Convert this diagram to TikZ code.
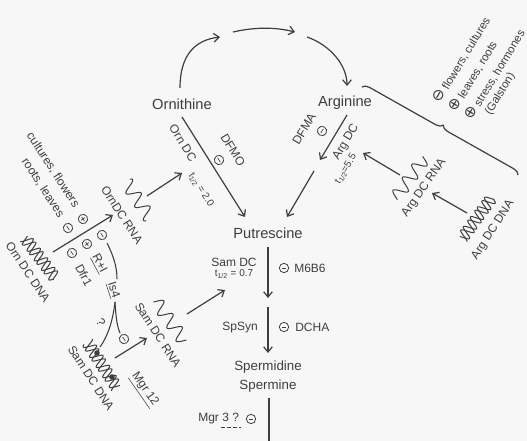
\documentclass[tikz,border=0pt]{standalone}
\usepackage{fontspec}
\setmainfont{Liberation Sans}
\newfontfamily\symf{DejaVu Sans}
\usetikzlibrary{arrows.meta,decorations.pathreplacing}
\definecolor{ink}{RGB}{62,62,62}
\definecolor{bg}{RGB}{247,247,247}
\newcommand\omin{{\symf\fontsize{11.5}{11.5}\selectfont ⊖}}
\newcommand\oplu{{\symf\fontsize{11.5}{11.5}\selectfont ⊕}}
\newcommand\mns{\makebox[0pt]{\color{ink}\rule[-0.25pt]{3.6pt}{0.5pt}}}
\newcommand\pls{\makebox[0pt]{\color{ink}\rule[-0.25pt]{3.6pt}{0.5pt}}\makebox[0pt]{\color{ink}\rule[-1.8pt]{0.5pt}{3.6pt}}}
\newcommand\rnaW[3]{\draw[wave, shift={(#1)}, rotate=#2] plot[domain=-#3:#3, samples=90, smooth] (\x,{6.5*sin(\x*22.5)});}
\newcommand\dnaW[3]{\draw[wave, shift={(#1)}, rotate=#2] plot[domain=-#3:#3, samples=120, smooth] (\x,{6*sin(\x*30)});
 \draw[wave, shift={(#1)}, rotate=#2] plot[domain=-#3:#3, samples=120, smooth] (\x,{6*sin(\x*30+130)});}
\begin{document}
\begin{tikzpicture}[x=0.75pt,y=-0.75pt,
 every node/.style={text=ink, inner sep=0pt},
 conn/.style={draw=ink, line width=0.9pt, -{Straight Barb[length=4pt,width=6.5pt]}},
 plain/.style={draw=ink, line width=0.9pt},
 wave/.style={draw=ink, line width=0.75pt},
 big/.style={font=\fontsize{11}{13}\selectfont},
 med/.style={font=\fontsize{10}{12}\selectfont},
 mid/.style={font=\fontsize{9}{11}\selectfont},
 brl/.style={font=\fontsize{8.5}{10}\selectfont},
 sml/.style={font=\fontsize{7.5}{9}\selectfont},
 sgn/.style={circle, draw=ink, line width=0.6pt, minimum size=7pt, inner sep=0pt}]
\fill[bg] (0,0) rectangle (527,441);
\useasboundingbox (0,0) rectangle (527,441);

% main compounds
\node[big] (orn) at (182,104) {Ornithine};
\node[big] (arg) at (345,103) {Arginine};
\node[big] (put) at (268,233) {Putrescine};
\node[med] (spd) at (268,367) {Spermidine};
\node[med] (spm) at (268,386) {Spermine};

% connector end points
\coordinate (oa) at (180,88);
\coordinate (t1) at (220,37);
\coordinate (t2) at (233,32);
\coordinate (t3) at (295,32);
\coordinate (t4) at (307,37);
\coordinate (aa) at (347,86);
\coordinate (ob) at (182,117);
\coordinate (pa) at (245,217);
\coordinate (ab) at (347,115);
\coordinate (g1) at (320,160);
\coordinate (g2) at (314,171);
\coordinate (pb) at (287,217);
\coordinate (p1) at (268,247);
\coordinate (s1) at (268,298);
\coordinate (s2) at (268,307);
\coordinate (s3) at (268,353);
\coordinate (m1) at (269,398);
\coordinate (m2) at (269,441);

\draw[conn] (oa) .. controls (180,55) and (195,40) .. (t1);
\draw[conn] (t2) .. controls (255,27) and (275,27) .. (t3);
\draw[conn] (t4) .. controls (330,45) and (347,65) .. (aa);
\draw[conn] (ob) -- (pa);
\draw[conn] (ab) -- (g1);
\draw[conn] (g2) -- (pb);
\draw[conn] (p1) -- (s1);
\draw[conn] (s2) -- (s3);
\draw[plain] (m1) -- (m2);

% enzyme labels
\node[mid, rotate=-58] (odc) at (183,143) {Orn DC};
\node[sml, rotate=-58] (oth) at (201,190) {t\textsubscript{1/2} = 2.0};
\node[mid, rotate=-58] (dfmo) at (233,150) {DFMO};
\node[sgn, rotate=-58] (dfmoi) at (219,160) {\mns};
\node[mid, rotate=59] (dfma) at (304,129) {DFMA};
\node[sgn, rotate=59] (dfmai) at (322,131) {\mns};
\node[mid, rotate=59] (adc) at (346,142) {Arg DC};
\node[sml, rotate=59] (ath) at (346,169) {t\textsubscript{1/2}=5.5};

\node[mid] (sdc) at (234,262) {Sam DC};
\node[sml] (sth) at (234,274) {t\textsubscript{1/2} = 0.7};
\node[sgn] (mgi) at (284,268) {\mns};
\node[mid, anchor=west] (mgbg) at (294,268) {M6B6};
\node[mid] (sps) at (240,328) {SpSyn};
\node[sgn] (dci) at (284,327) {\mns};
\node[mid, anchor=west] (dcha) at (295,327) {DCHA};
\node[mid, anchor=west] (mgr3) at (198,419) {Mgr 3 ?};
\draw[ink, line width=0.6pt, dash pattern=on 3pt off 1.5pt] (221,427) -- (241,427);
\node[sgn] (mgr3i) at (251,419) {\mns};

% brace and its labels
\coordinate (br1) at (362,87);
\coordinate (br2) at (518,175);
\draw[plain, decorate, decoration={brace, amplitude=5pt}] (br1) -- (br2);
\node[brl, rotate=58.7, anchor=west] (l1) at (436,102) {\omin\ flowers, cultures};
\node[brl, rotate=58.7, anchor=west] (l2) at (452,111) {\oplu\ leaves, roots};
\node[brl, rotate=58.7, anchor=west] (l3) at (468,119) {\oplu\ stress, hormones};
\node[brl, rotate=58.7, anchor=west] (l4) at (488,114) {(Galston)};

% Arg DC genes
\rnaW{410,178}{54}{25}
\node[mid, rotate=55] (argrna) at (424,188) {Arg DC RNA};
\dnaW{477,218}{54}{25}
\node[mid, rotate=57] (argdna) at (493,230) {Arg DC DNA};
\coordinate (ar1) at (400,175);
\coordinate (ar2) at (363,153);
\coordinate (ad1) at (467,213);
\coordinate (ad2) at (432,193);
\draw[conn] (ar1) -- (ar2);
\draw[conn] (ad1) -- (ad2);

% Orn DC genes
\node[mid, rotate=-57] (cf) at (53,170) {cultures, flowers};
\node[mid, rotate=-57] (rl) at (43,188) {roots, leaves};
\node[sgn, rotate=-57] (s1a) at (68,228) {\mns};
\node[sgn, rotate=-57] (s1b) at (83,219) {\pls};
\node[sgn, rotate=-57] (s2a) at (72,253) {\mns};
\node[sgn, rotate=-57] (s2b) at (87,244) {\pls};
\node[sgn, rotate=-57] (s2c) at (102,235) {\mns};
\node[mid, rotate=-62] (ri) at (99,264) {\underline{R+I}};
\node[mid, rotate=-62] (dfr) at (84,275) {Dfr1};
\dnaW{40,258}{-53}{25}
\node[mid, rotate=-56] (orndna) at (28,272) {Orn DC DNA};
\rnaW{138,200}{-57}{22}
\node[mid, rotate=-57] (ornrna) at (122,215) {OrnDC RNA};
\coordinate (or1) at (53,252);
\coordinate (or2) at (113,215);
\coordinate (or3) at (147,196);
\coordinate (or4) at (182,173);
\draw[conn] (or1) -- (or2);
\draw[conn] (or3) -- (or4);

% Is4 regulation
\coordinate (i1) at (107,243);
\coordinate (i2) at (117,279);
\coordinate (i3) at (115,302);
\coordinate (i4) at (100,347);
\coordinate (i5) at (120,333);
\draw[plain, line width=0.8pt] (i1) .. controls (113,255) and (117,266) .. (i2);
\node[mid, rotate=-72] (is4) at (113,290) {\underline{Is4}};
\draw[plain, line width=0.8pt] (i3) .. controls (113,320) and (108,336) .. (i4);
\draw[plain, line width=0.8pt] (i3) .. controls (116,318) and (117,326) .. (i5);
\node[mid, rotate=-60] (qm) at (101,322) {?};
\node[sgn, rotate=-57] (s3a) at (124,339) {\mns};

% Sam DC genes
\dnaW{102,365}{-57}{27}
\fill[ink] (97,353) circle (2.8);
\fill[ink] (112,377) circle (2.8);
\node[mid, rotate=-57] (samdna) at (91,378) {Sam DC DNA};
\rnaW{170,321}{-55}{25}
\node[mid, rotate=-57] (samrna) at (158,335) {Sam DC RNA};
\node[mid, rotate=-55] (mgr12) at (144,390) {\underline{Mgr 12}};
\coordinate (sr1) at (115,358);
\coordinate (sr2) at (147,338);
\coordinate (sr3) at (187,314);
\coordinate (sr4) at (225,290);
\draw[conn] (sr1) -- (sr2);
\draw[conn] (sr3) -- (sr4);
\end{tikzpicture}
\end{document}
